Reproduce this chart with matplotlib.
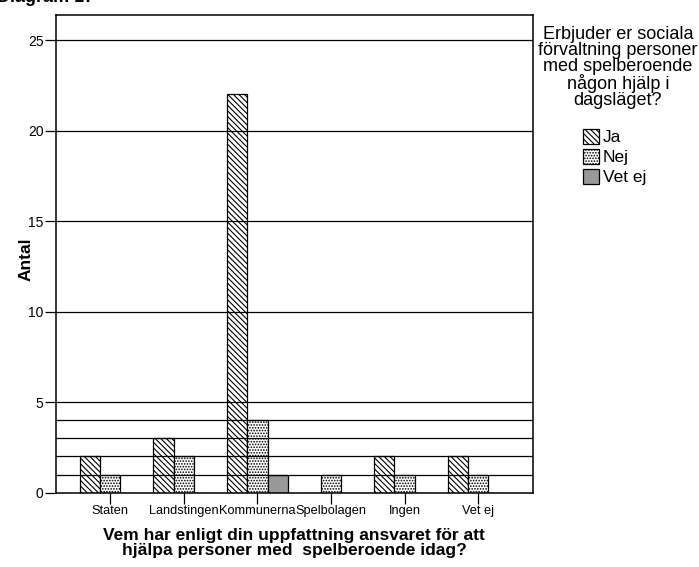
import matplotlib.pyplot as plt
import numpy as np

plt.rcParams['font.family'] = ['Liberation Sans', 'DejaVu Sans']
plt.rcParams['hatch.linewidth'] = 0.8

categories = ["Staten", "Landstingen", "Kommunerna", "Spelbolagen", "Ingen", "Vet ej"]
ja = [2, 3, 22, 0, 2, 2]
nej = [1, 2, 4, 1, 1, 1]
vet_ej = [0, 0, 1, 0, 0, 0]
series_labels = ["Ja", "Nej", "Vet ej"]
grid_values = [1, 2, 3, 4, 5, 10, 15, 20, 25]
yticks = [0, 5, 10, 15, 20, 25]

W, H = 699, 567
fig = plt.figure(figsize=(W / 100, H / 100), dpi=100)
ax = fig.add_axes([56 / W, (H - 492.7) / H, (532.7 - 56) / W, (492.7 - 15) / H])

x = np.arange(len(categories))
bw = 0.276
ax.bar(x - bw, ja, bw, color='white', edgecolor='black', hatch='\\\\\\\\\\\\',
       lw=0.9, zorder=2, label=series_labels[0])
ax.bar(x, nej, bw, color='white', edgecolor='black', hatch='......',
       lw=0.9, zorder=2, label=series_labels[1])
ax.bar(x + bw, vet_ej, bw, color='#999999', edgecolor='black',
       lw=0.9, zorder=2, label=series_labels[2])

for g in grid_values:
    ax.axhline(g, color='black', lw=0.9, zorder=3)

ax.set_xlim(-0.734, 5.739)
ax.set_ylim(0, 26.39)
ax.set_xticks(x)
ax.set_xticklabels(categories, fontsize=9.2)
ax.set_yticks(yticks)
ax.set_yticklabels([str(v) for v in yticks], fontsize=10)
ax.tick_params(axis='both', direction='out', length=8, width=0.9, pad=1)
for s in ax.spines.values():
    s.set_linewidth(1.1)
    s.set_zorder(4)

fig.text(26 / W, 1 - 259 / H, "Antal", rotation=90, ha='center', va='center',
         fontsize=12.5, fontweight='bold')
fig.text(294.4 / W, 1 - 528 / H,
         "Vem har enligt din uppfattning ansvaret för att\nhjälpa personer med  spelberoende idag?",
         ha='center', va='top', fontsize=12.5, fontweight='bold', linespacing=1.0)
fig.text(-3 / W, 1 - 2 / H, "Diagram 17", ha='left', va='baseline',
         fontsize=13, fontweight='bold')

fig.text(618 / W, 1 - 26 / H,
         "Erbjuder er sociala\nförvaltning personer\nmed spelberoende\nnågon hjälp i\ndagsläget?",
         ha='center', va='top', fontsize=13, linespacing=0.93, multialignment='center')

leg = ax.legend(loc='upper left', bbox_to_anchor=(583 / W, 1 - 129 / H),
                bbox_transform=fig.transFigure, frameon=False, fontsize=12.5,
                handlelength=0.95, handleheight=0.95, handletextpad=0.2,
                labelspacing=0.2, borderpad=0, borderaxespad=0)

fig.savefig("out.png", dpi=100)
